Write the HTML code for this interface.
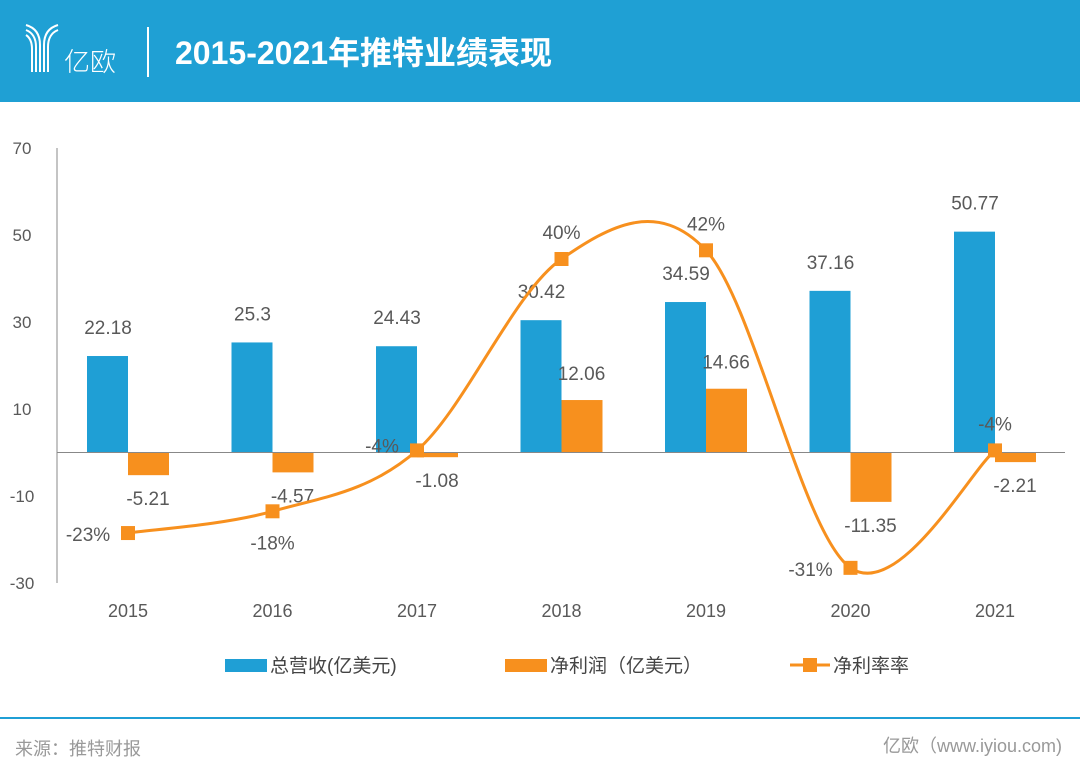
<!DOCTYPE html>
<html><head><meta charset="utf-8"><style>
body{margin:0;width:1080px;height:773px;background:#fff;overflow:hidden;font-family:"Liberation Sans","Noto Sans CJK SC",sans-serif}
#hdr{position:absolute;left:0;top:0;width:1080px;height:102px;background:#1fa0d4}
</style></head><body>
<div id="hdr">
<svg width="1080" height="102">
<g stroke="#fff" stroke-width="2" fill="none">
<path d="M26 25 Q40 29 40 45 V72"/><path d="M26 30 Q36 34 36 47 V72"/><path d="M26 35 Q32 39 32 49 V72"/>
<path d="M58 25 Q44 29 44 45 V72"/><path d="M58 30 Q48 34 48 47 V72"/>
</g>
<text x="64" y="71" fill="#fff" font-size="26" font-family="Noto Sans CJK SC,sans-serif" font-weight="300">亿欧</text>
<line x1="148" y1="27" x2="148" y2="77" stroke="#fff" stroke-width="2"/>
<text x="175" y="64" fill="#fff" font-size="32" font-weight="bold" font-family="Liberation Sans,Noto Sans CJK SC,sans-serif">2015-2021年推特业绩表现</text>
</svg></div>
<svg id="chart" width="1080" height="773" style="position:absolute;left:0;top:0"></svg>
<script>
const years=["2015","2016","2017","2018","2019","2020","2021"];
const revenue=[22.18,25.3,24.43,30.42,34.59,37.16,50.77];
const profit=[-5.21,-4.57,-1.08,12.06,14.66,-11.35,-2.21];
const margin=[-23,-18,-4,40,42,-31,-4];
const marginLabels=["-23%","-18%","-4%","40%","42%","-31%","-4%"];
const yTicks=[70,50,30,10,-10,-30];
const NS="http://www.w3.org/2000/svg";
const svg=document.getElementById('chart');
const y=v=>452.5-v*4.35;
const y2=v=>433-v*4.35;
const cx=i=>128+i*144.5;
function mk(t,a,p){const e=document.createElementNS(NS,t);for(const k in a)e.setAttribute(k,a[k]);(p||svg).appendChild(e);return e;}
mk('line',{x1:57,y1:148,x2:57,y2:583,stroke:'#888','stroke-width':1});
yTicks.forEach(t=>{const e=mk('text',{x:22,y:y(t)+6,'text-anchor':'middle','font-size':17,fill:'#595959'});e.textContent=t;

});
years.forEach((yr,i)=>{
const b=mk('rect',{x:cx(i)-41,y:y(revenue[i]),width:41,height:y(0)-y(revenue[i]),fill:'#1f9fd5'});


const p=profit[i];
const o=mk('rect',{x:cx(i),y:Math.min(y(p),y(0)),width:41,height:Math.abs(y(0)-y(p)),fill:'#f7901e'});


const t=mk('text',{x:cx(i)-20,y:y(revenue[i])-22,'text-anchor':'middle','font-size':19,fill:'#595959'});t.textContent=revenue[i];


const t2=mk('text',{x:cx(i)+20,y:p>=0?y(p)-20:y(p)+30,'text-anchor':'middle','font-size':19,fill:'#595959'});t2.textContent=p;


const t3=mk('text',{x:cx(i),y:617,'text-anchor':'middle','font-size':18,fill:'#595959'});t3.textContent=yr;


});
mk('line',{x1:57,y1:y(0),x2:1065,y2:y(0),stroke:'#888','stroke-width':1});
const pts=margin.map((m,i)=>[cx(i),y2(m)]);
let d='M'+pts[0][0]+' '+pts[0][1];
for(let i=0;i<pts.length-1;i++){const p0=pts[Math.max(0,i-1)],p1=pts[i],p2=pts[i+1],p3=pts[Math.min(pts.length-1,i+2)];
d+=` C${p1[0]+(p2[0]-p0[0])/6} ${p1[1]+(p2[1]-p0[1])/6} ${p2[0]-(p3[0]-p1[0])/6} ${p2[1]-(p3[1]-p1[1])/6} ${p2[0]} ${p2[1]}`;}
const ln=mk('path',{d:d,fill:'none',stroke:'#f7901e','stroke-width':3});


const lo=[[-40,8],[0,38],[-35,2],[0,-20],[0,-20],[-40,8],[0,-20]];
pts.forEach((p,i)=>{const m=mk('rect',{x:p[0]-7,y:p[1]-7,width:14,height:14,fill:'#f7901e'});


const t=mk('text',{x:p[0]+lo[i][0],y:p[1]+lo[i][1],'text-anchor':'middle','font-size':19,fill:'#595959'});
t.textContent=marginLabels[i];

});
const lg=[[225,'#1f9fd5','总营收(亿美元)'],[505,'#f7901e','净利润（亿美元）']];
lg.forEach(l=>{const r=mk('rect',{x:l[0],y:659,width:42,height:13,fill:l[1]});


const t=mk('text',{x:l[0]+45,y:672,'font-size':19,fill:'#444'});t.textContent=l[2];

});
mk('line',{x1:790,y1:665,x2:830,y2:665,stroke:'#f7901e','stroke-width':3});
mk('rect',{x:803,y:658,width:14,height:14,fill:'#f7901e'});
const lt=mk('text',{x:833,y:672,'font-size':19,fill:'#444'});lt.textContent='净利率率';


mk('line',{x1:0,y1:718,x2:1080,y2:718,stroke:'#1f9fd5','stroke-width':2});
const s=mk('text',{x:15,y:755,'font-size':18,fill:'#999'});s.textContent='来源：推特财报';


const w=mk('text',{x:1062,y:752,'text-anchor':'end','font-size':18,fill:'#999'});w.textContent='亿欧（www.iyiou.com)';


</script>
</body></html>
